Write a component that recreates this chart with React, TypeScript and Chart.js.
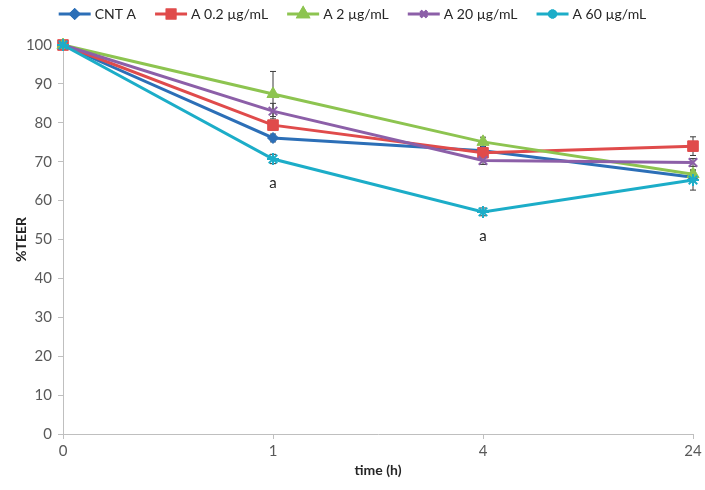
import React, { useEffect, useRef } from 'react';
import { Chart, registerables } from 'chart.js';
import { drawPoint } from 'chart.js/helpers';

Chart.register(...registerables);

const timeLabels = ['0', '1', '4', '24'];
const seriesNames = ['CNT A', 'A 0.2 µg/mL', 'A 2 µg/mL', 'A 20 µg/mL', 'A 60 µg/mL'];
const cntA = [100, 76.1, 72.8, 66.0];
const a02 = [100, 79.4, 72.3, 74.0];
const a2 = [100, 87.4, 75.1, 66.8];
const a20 = [100, 83.0, 70.3, 69.8];
const a60 = [100, 70.7, 57.1, 65.3];
const cntAErr = [0, 1.0, 0.6, 1.2];
const a02Err = [0, 1.2, 0.6, 2.4];
const a2Err = [0, 5.8, 1.2, 1.0];
const a20Err = [0, 2.0, 1.0, 1.0];
const a60Err = [0, 1.2, 1.0, 2.6];
const a60Sig = ['', 'a', 'a', ''];

const colors = ['#2C6FB7', '#E04B4B', '#8DC450', '#8C5FA8', '#1CADC8'];
const markers = ['rectRot', 'rect', 'triangle', 'crossRot', 'star'];
const markerRadius = [5.5, 7.5, 7, 6, 6];
const legendRadius = [4, 5.5, 5.5, 4.5, 4.5];

const seriesValues = [cntA, a02, a2, a20, a60];
const seriesErrors = [cntAErr, a02Err, a2Err, a20Err, a60Err];
const seriesSig = [null, null, null, null, a60Sig];

const FONT = 'Lato, "Open Sans", sans-serif';

const errorBarPlugin = {
  id: 'errorBars',
  beforeDatasetsDraw(chart: any) {
    const { ctx } = chart;
    const y = chart.scales.y;
    ctx.save();
    ctx.strokeStyle = '#3A3A3A';
    ctx.lineWidth = 1;
    chart.data.datasets.forEach((ds: any, i: number) => {
      const meta = chart.getDatasetMeta(i);
      const errs = seriesErrors[i];
      meta.data.forEach((pt: any, j: number) => {
        const e = errs[j];
        if (!e) return;
        const v = seriesValues[i][j];
        const yTop = y.getPixelForValue(v + e);
        const yBot = y.getPixelForValue(v - e);
        const x = pt.x;
        ctx.beginPath();
        ctx.moveTo(x, yTop);
        ctx.lineTo(x, yBot);
        ctx.moveTo(x - 3, yTop);
        ctx.lineTo(x + 3, yTop);
        ctx.moveTo(x - 3, yBot);
        ctx.lineTo(x + 3, yBot);
        ctx.stroke();
      });
    });
    ctx.restore();
  },
  afterDatasetsDraw(chart: any) {
    const { ctx } = chart;
    ctx.save();
    ctx.fillStyle = '#262626';
    ctx.font = '15px ' + FONT;
    ctx.textAlign = 'center';
    ctx.textBaseline = 'middle';
    seriesSig.forEach((sig, i) => {
      if (!sig) return;
      const meta = chart.getDatasetMeta(i);
      meta.data.forEach((pt: any, j: number) => {
        if (sig[j]) ctx.fillText(sig[j], pt.x, pt.y + 24);
      });
    });
    ctx.restore();
  },
  afterDraw(chart: any) {
    const { ctx } = chart;
    ctx.save();
    ctx.font = '14px ' + FONT;
    const lineW = 32;
    const gap = 4;
    const spacing = 19;
    const widths = seriesNames.map((n) => ctx.measureText(n).width);
    const total = widths.reduce((a, w) => a + lineW + gap + w, 0) + spacing * (seriesNames.length - 1);
    let x = (chart.width - total) / 2;
    const yc = 14;
    seriesNames.forEach((name, i) => {
      ctx.strokeStyle = colors[i];
      ctx.lineWidth = 3;
      ctx.beginPath();
      ctx.moveTo(x, yc);
      ctx.lineTo(x + lineW, yc);
      ctx.stroke();
      drawPoint(ctx, {
        pointStyle: markers[i],
        radius: legendRadius[i],
        borderWidth: markers[i] === 'crossRot' || markers[i] === 'star' ? 1.5 : 1,
        rotation: 0,
      } as any, x + lineW / 2, yc);
      ctx.fillStyle = colors[i];
      ctx.strokeStyle = colors[i];
      ctx.fill();
      ctx.stroke();
      ctx.fillStyle = '#262626';
      ctx.textAlign = 'left';
      ctx.textBaseline = 'middle';
      ctx.fillText(name, x + lineW + gap, yc);
      x += lineW + gap + widths[i] + spacing;
    });
    ctx.restore();
  },
};

export default function App() {
  const ref = useRef<HTMLCanvasElement | null>(null);
  useEffect(() => {
    if (!ref.current) return;
    const chart = new Chart(ref.current, {
      type: 'line',
      data: {
        labels: timeLabels,
        datasets: seriesNames.map((name, i) => ({
          label: name,
          data: seriesValues[i],
          borderColor: colors[i],
          backgroundColor: colors[i],
          borderWidth: 3,
          pointStyle: markers[i] as any,
          pointRadius: markerRadius[i],
          pointBorderWidth: markers[i] === 'crossRot' || markers[i] === 'star' ? 2 : 1,
          pointBackgroundColor: colors[i],
          pointBorderColor: colors[i],
          tension: 0,
          clip: false as any,
          order: seriesNames.length - 1 - i,
        })),
      },
      options: {
        animation: false,
        responsive: false,
        layout: { padding: { top: 45, right: 12, left: 0, bottom: 0 } },
        plugins: {
          legend: { display: false },
          tooltip: { enabled: false },
        },
        scales: {
          x: {
            type: 'category',
            offset: false,
            grid: { drawOnChartArea: false, drawTicks: true, tickLength: 5, color: '#BFBFBF' },
            border: { color: '#BFBFBF', width: 1 },
            ticks: { font: { family: FONT, size: 15 }, color: '#595959', padding: 3, maxRotation: 0 },
            title: {
              display: true,
              text: 'time (h)',
              font: { family: FONT, size: 14, weight: 'bold' },
              color: '#262626',
              padding: { top: 0, bottom: 11 },
            },
            afterFit: (scale: any) => { scale.height = 56; },
          },
          y: {
            min: 0,
            max: 100,
            ticks: { stepSize: 10, font: { family: FONT, size: 15 }, color: '#595959', padding: 6 },
            grid: { drawOnChartArea: false, drawTicks: true, tickLength: 5, color: '#BFBFBF' },
            border: { color: '#BFBFBF', width: 1 },
            title: {
              display: true,
              text: '%TEER',
              font: { family: FONT, size: 14, weight: 'bold' },
              color: '#262626',
              padding: { top: 13, bottom: 0 },
            },
            afterFit: (scale: any) => { scale.width = 63; },
          },
        },
      },
      plugins: [errorBarPlugin],
    });
    return () => chart.destroy();
  }, []);
  return (
    <div style={{ position: 'fixed', left: 0, top: 0, width: 705, height: 490, background: '#fff' }}>
      <canvas ref={ref} width={705} height={490} style={{ display: 'block' }} />
    </div>
  );
}
